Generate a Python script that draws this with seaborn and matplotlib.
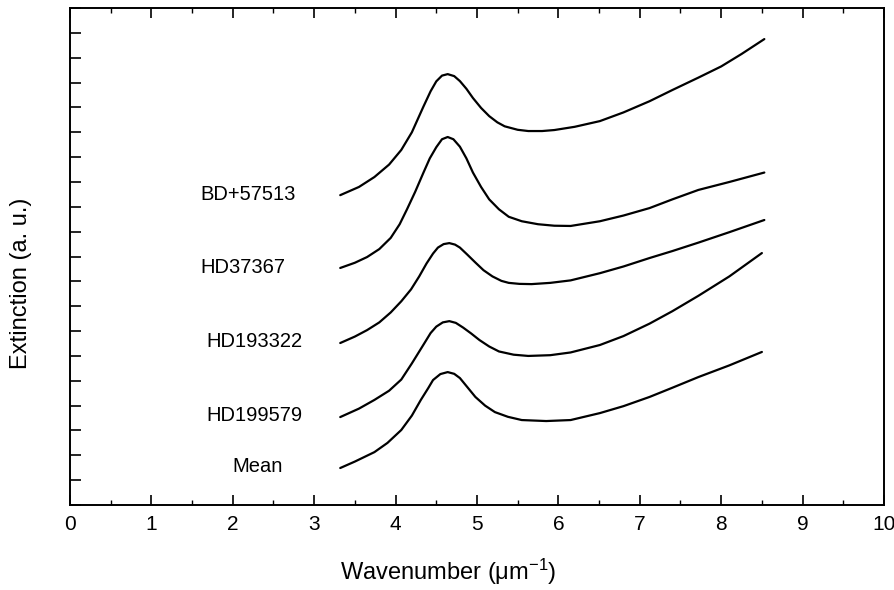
import matplotlib
matplotlib.use("Agg")
import matplotlib.pyplot as plt
from matplotlib.ticker import MultipleLocator, NullFormatter
import pandas as pd
import seaborn as sns

stars = ["BD+57513", "HD37367", "HD193322", "HD199579", "Mean"]

x_bd = [3.32, 3.55, 3.74, 3.92, 4.07, 4.20, 4.34, 4.43, 4.50, 4.57, 4.64, 4.72, 4.79, 4.87, 4.95,
        5.05, 5.15, 5.25, 5.34, 5.50, 5.63, 5.80, 5.95, 6.20, 6.51, 6.80, 7.12, 7.40, 7.72, 8.00,
        8.25, 8.53]
y_bd = [12.47, 12.80, 13.20, 13.70, 14.29, 15.00, 16.02, 16.65, 17.05, 17.28, 17.34, 17.26, 17.06,
        16.75, 16.38, 15.98, 15.65, 15.40, 15.24, 15.10, 15.05, 15.05, 15.09, 15.22, 15.45, 15.80,
        16.25, 16.70, 17.20, 17.65, 18.15, 18.75]

x_37367 = [3.32, 3.50, 3.65, 3.80, 3.94, 4.05, 4.14, 4.24, 4.34, 4.42, 4.50, 4.57, 4.64, 4.71, 4.79,
           4.87, 4.95, 5.05, 5.15, 5.27, 5.39, 5.55, 5.75, 5.95, 6.15, 6.51, 6.80, 7.12, 7.40, 7.72,
           8.10, 8.53]
y_37367 = [9.54, 9.75, 9.98, 10.30, 10.75, 11.30, 11.90, 12.60, 13.36, 13.95, 14.40, 14.72, 14.81,
           14.72, 14.42, 13.95, 13.38, 12.80, 12.30, 11.90, 11.60, 11.42, 11.30, 11.24, 11.23, 11.42,
           11.65, 11.95, 12.30, 12.68, 13.00, 13.38]

x_193322 = [3.32, 3.50, 3.65, 3.80, 3.94, 4.07, 4.19, 4.29, 4.38, 4.46, 4.52, 4.59, 4.66, 4.73, 4.79,
            4.88, 4.98, 5.08, 5.19, 5.30, 5.39, 5.52, 5.67, 5.90, 6.15, 6.51, 6.80, 7.12, 7.40, 7.72,
            8.10, 8.53]
y_193322 = [6.52, 6.78, 7.04, 7.35, 7.75, 8.20, 8.68, 9.20, 9.72, 10.12, 10.36, 10.50, 10.54, 10.48,
            10.36, 10.08, 9.76, 9.45, 9.20, 9.02, 8.94, 8.90, 8.89, 8.94, 9.04, 9.33, 9.60, 9.94,
            10.22, 10.56, 10.98, 11.47]

x_199579 = [3.32, 3.55, 3.74, 3.92, 4.07, 4.20, 4.34, 4.43, 4.50, 4.58, 4.66, 4.74, 4.83, 4.93, 5.03,
            5.15, 5.27, 5.45, 5.63, 5.90, 6.15, 6.51, 6.80, 7.12, 7.40, 7.72, 8.10, 8.50]
y_199579 = [3.54, 3.88, 4.23, 4.60, 5.05, 5.70, 6.44, 6.92, 7.18, 7.35, 7.40, 7.33, 7.14, 6.90, 6.64,
            6.38, 6.18, 6.05, 6.00, 6.03, 6.14, 6.44, 6.80, 7.30, 7.80, 8.42, 9.20, 10.14]

x_mean = [3.32, 3.50, 3.74, 3.90, 4.07, 4.20, 4.31, 4.40, 4.46, 4.55, 4.64, 4.72, 4.79, 4.88, 4.98,
          5.10, 5.22, 5.38, 5.55, 5.85, 6.15, 6.51, 6.80, 7.12, 7.40, 7.72, 8.10, 8.50]
y_mean = [1.49, 1.75, 2.13, 2.50, 3.02, 3.60, 4.23, 4.70, 5.03, 5.27, 5.35, 5.28, 5.11, 4.75, 4.35,
          4.00, 3.74, 3.55, 3.42, 3.38, 3.42, 3.70, 3.98, 4.35, 4.72, 5.15, 5.62, 6.16]

label_x = [2.19, 2.12, 2.26, 2.27, 2.30]
label_y = [12.5, 9.55, 6.6, 3.6, 1.55]

xs = [x_bd, x_37367, x_193322, x_199579, x_mean]
ys = [y_bd, y_37367, y_193322, y_199579, y_mean]

sns.set_style("ticks")
plt.rcParams["font.family"] = ["Liberation Sans", "DejaVu Sans"]
plt.rcParams["text.color"] = "black"
plt.rcParams["axes.labelcolor"] = "black"
plt.rcParams["xtick.color"] = "black"
plt.rcParams["ytick.color"] = "black"

fig = plt.figure(figsize=(8.94, 5.90), dpi=100)
ax = fig.add_axes([0.0783, 0.144, 0.9105, 0.8424])

for star, x, y in zip(stars, xs, ys):
    df = pd.DataFrame({"x": x, "y": y})
    sns.lineplot(data=df, x="x", y="y", color="black", linewidth=1.6, ax=ax)

for star, lx, ly in zip(stars, label_x, label_y):
    ax.text(lx, ly, star, ha="center", va="center", fontsize=14.5, color="black")

ax.set_xlim(0, 10)
ax.set_ylim(0, 20)
ax.xaxis.set_major_locator(MultipleLocator(1))
ax.xaxis.set_minor_locator(MultipleLocator(0.5))
ax.yaxis.set_major_locator(MultipleLocator(1))
ax.yaxis.set_major_formatter(NullFormatter())

ax.tick_params(axis="x", which="major", direction="in", length=7, width=1.2,
               top=True, labelsize=15, pad=7, colors="black")
ax.tick_params(axis="x", which="minor", direction="in", length=3.6, width=1.0,
               top=True, colors="black")
ax.tick_params(axis="y", which="major", direction="in", length=8, width=1.2,
               left=True, right=False, colors="black")

for s in ax.spines.values():
    s.set_linewidth(1.4)
    s.set_color("black")

ax.set_xlabel(r"Wavenumber ($\mathregular{\mu m^{-1}}$)", fontsize=17, color="black")
ax.set_ylabel("Extinction (a. u.)", fontsize=17, color="black")
ax.xaxis.set_label_coords(0.465, -0.105)
ax.yaxis.set_label_coords(-0.047, 0.447)

fig.savefig("out.png", dpi=100)
